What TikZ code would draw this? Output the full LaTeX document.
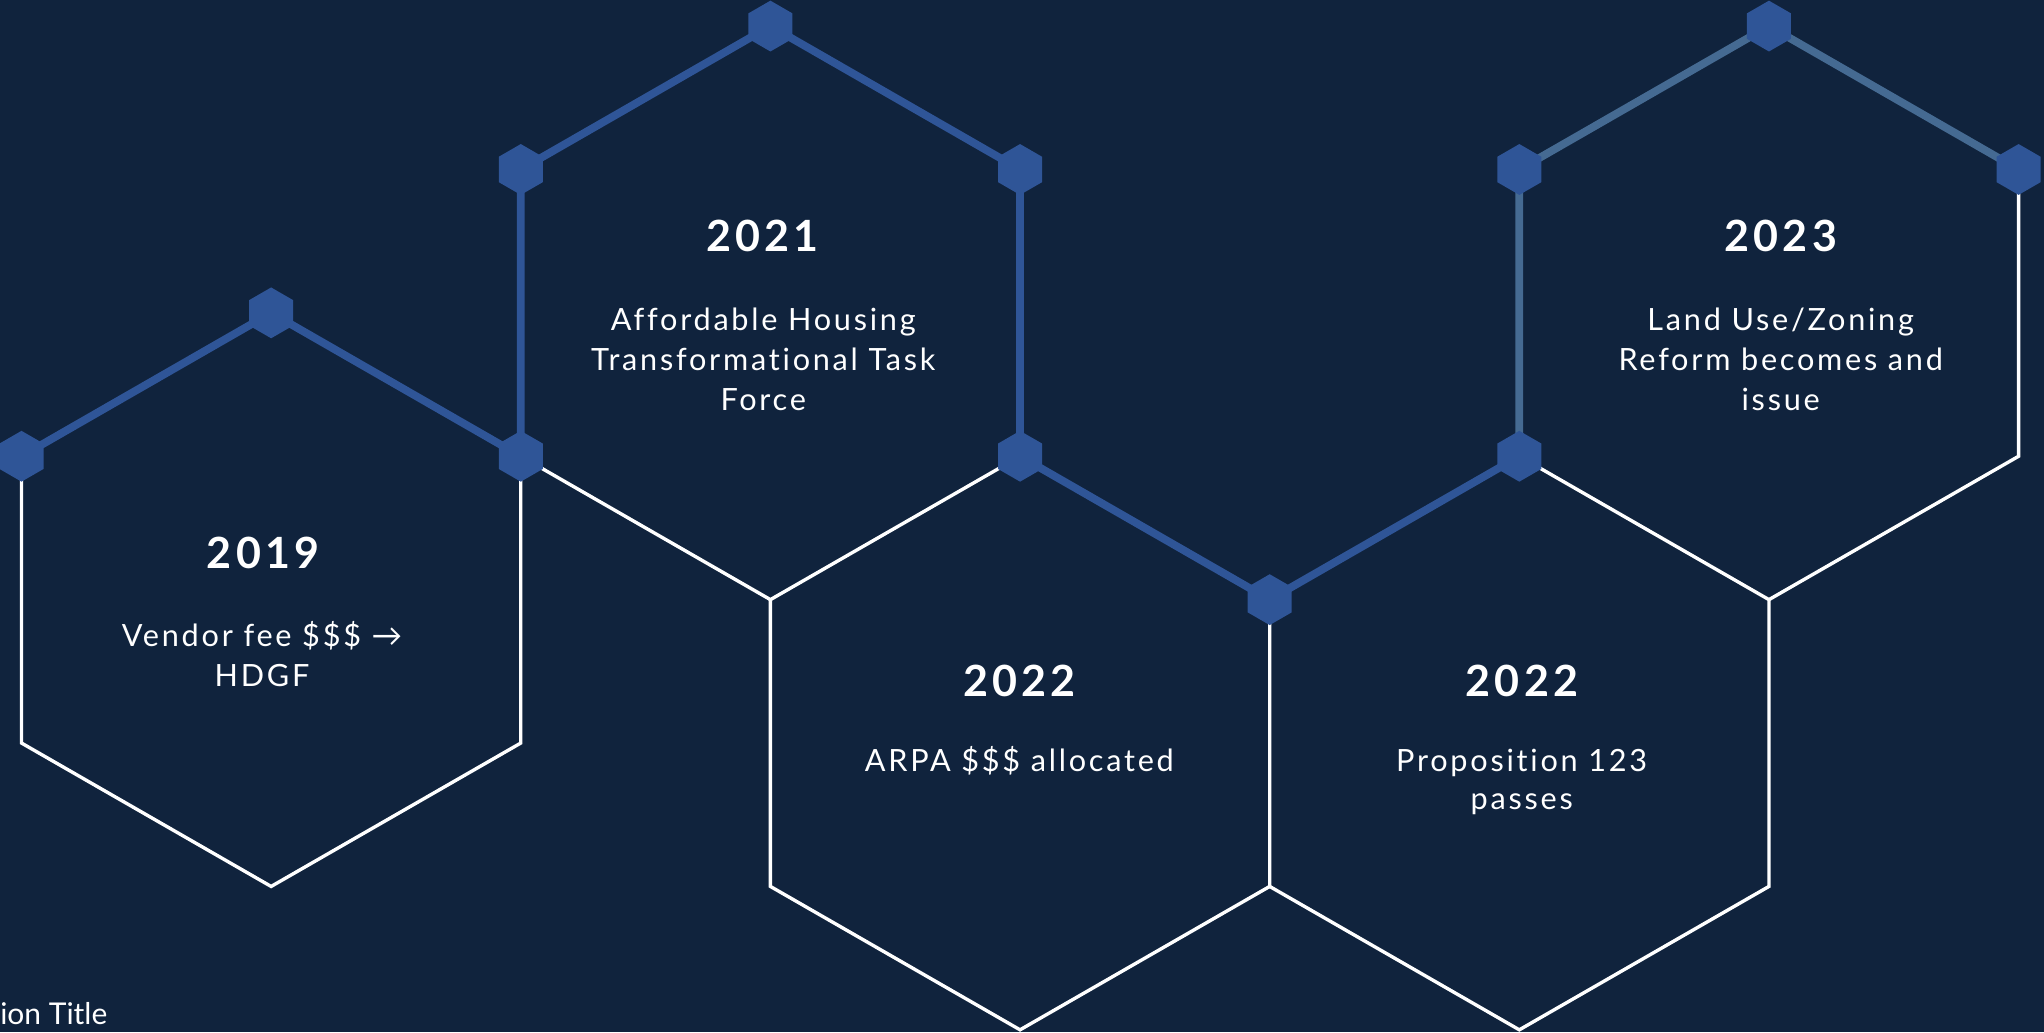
\documentclass[tikz,border=0pt]{standalone}
\usepackage{fontspec}
\setmainfont{Lato}[Ligatures={NoCommon}]
\usetikzlibrary{shapes.geometric}
\definecolor{bg}{HTML}{10233D}
\definecolor{hexblue}{HTML}{2F5597}
\definecolor{mutedblue}{HTML}{456A92}
\begin{document}
\begin{tikzpicture}[x=1pt,y=-1pt,
  hexnode/.style={regular polygon, regular polygon sides=6, shape border rotate=30,
    fill=hexblue, draw=none, minimum size=39pt, inner sep=0pt, outer sep=0pt},
  whiteedge/.style={draw=white, line width=2.6pt, line join=miter},
  blueedge/.style={draw=hexblue, line width=6pt, line join=round},
  mutededge/.style={draw=mutedblue, line width=6pt, line join=round},
  yeartext/.style={font=\fontsize{33}{38}\selectfont\bfseries\addfontfeature{LetterSpace=10}, text=white, anchor=base, inner sep=0pt},
  bodytext/.style={font=\fontsize{23.5}{31}\selectfont\addfontfeature{LetterSpace=9}, text=white, anchor=base, inner sep=0pt},
  foottext/.style={font=\fontsize{23}{28}\selectfont, text=white, anchor=base west, inner sep=0pt}
]
\useasboundingbox (0,0) rectangle (1568,792);
\fill[bg] (0,0) rectangle (1568,792);

% vertices
\coordinate (Atop) at (208,240);
\coordinate (AUL)  at (16.5,350);
\coordinate (AUR)  at (399.5,350);
\coordinate (ALL)  at (16.5,570);
\coordinate (ALR)  at (399.5,570);
\coordinate (Abot) at (208,680);

\coordinate (Btop) at (591,20);
\coordinate (BUL)  at (399.5,130);
\coordinate (BUR)  at (782.5,130);
\coordinate (BLR)  at (782.5,350);
\coordinate (Bbot) at (591,460);

\coordinate (CUR)  at (974,460);
\coordinate (CLL)  at (591,680);
\coordinate (CLR)  at (974,680);
\coordinate (Cbot) at (782.5,790);

\coordinate (Dtop) at (1165.5,350);
\coordinate (DUR)  at (1357,460);
\coordinate (DLR)  at (1357,680);
\coordinate (Dbot) at (1165.5,790);

\coordinate (Etop) at (1357,20);
\coordinate (EUL)  at (1165.5,130);
\coordinate (EUR)  at (1548.5,130);
\coordinate (ELR)  at (1548.5,350);

% white outlines
\draw[whiteedge] (AUL) -- (ALL) -- (Abot) -- (ALR) -- (AUR);
\draw[whiteedge] (AUR) -- (Bbot) -- (BLR);
\draw[whiteedge] (Bbot) -- (CLL) -- (Cbot) -- (CLR) -- (CUR);
\draw[whiteedge] (CLR) -- (Dbot) -- (DLR) -- (DUR) -- (Dtop);
\draw[whiteedge] (DUR) -- (ELR) -- (EUR);

% blue path
\draw[blueedge] (AUL) -- (Atop) -- (AUR) -- (BUL) -- (Btop) -- (BUR) -- (BLR) -- (CUR) -- (Dtop);
\draw[mutededge] (Dtop) -- (EUL) -- (Etop) -- (EUR);

% small hexagons
\foreach \p in {Atop,AUL,AUR,BUL,Btop,BUR,BLR,CUR,Dtop,EUL,Etop,EUR}
  \node[hexnode] (h\p) at (\p) {};

% texts
\node[yeartext] (yA) at (202,436) {2019};
\node[bodytext] (tA1) at (201,496) {Vendor fee \$\$\$ →};
\node[bodytext] (tA2) at (201,527) {HDGF};

\node[yeartext] (yB) at (585,193) {2021};
\node[bodytext] (tB1) at (585.5,253.7) {Affordable Housing};
\node[bodytext] (tB2) at (585.5,284.3) {Transformational Task};
\node[bodytext] (tB3) at (585.5,315) {Force};

\node[yeartext] (yC) at (782,534) {2022};
\node[bodytext] (tC1) at (782,592) {ARPA \$\$\$ allocated};

\node[yeartext] (yD) at (1167.5,534) {2022};
\node[bodytext] (tD1) at (1167.3,592) {Proposition 123};
\node[bodytext] (tD2) at (1167.3,621) {passes};

\node[yeartext] (yE) at (1366,193) {2023};
\node[bodytext] (tE1) at (1366,253.7) {Land Use/Zoning};
\node[bodytext] (tE2) at (1366,284.3) {Reform becomes and};
\node[bodytext] (tE3) at (1366,315) {issue};

\node[foottext] (foot) at (0,786) {ion Title};
\end{tikzpicture}
\end{document}
